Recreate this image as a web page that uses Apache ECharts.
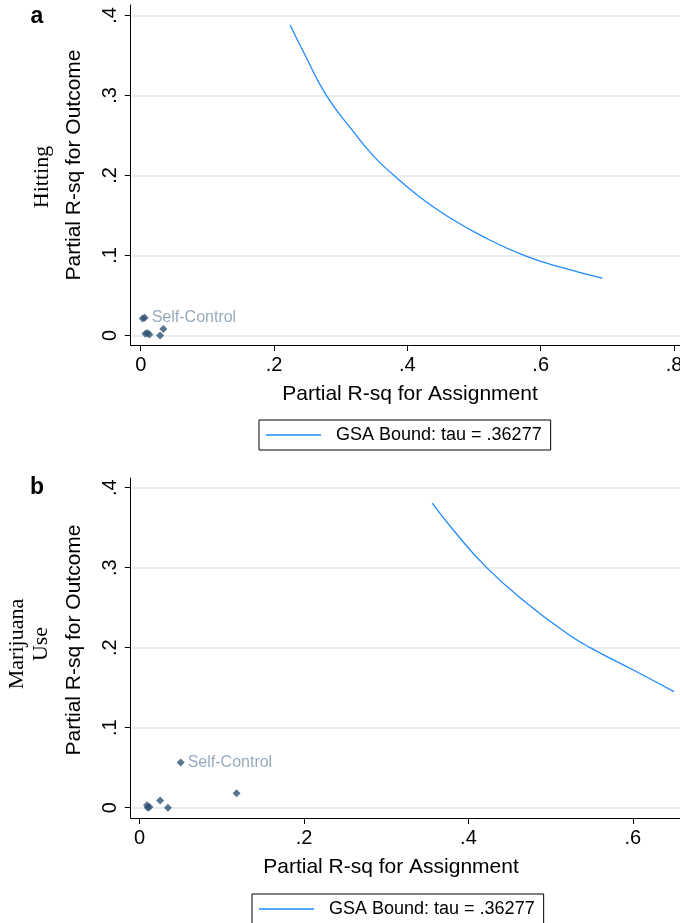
<!DOCTYPE html>
<html>
<head>
<meta charset="utf-8">
<script src="https://cdn.jsdelivr.net/npm/echarts@6/dist/echarts.min.js"></script>
<style>
  html, body { margin: 0; padding: 0; background: #fff; overflow: hidden; }
  /* wider than the window: the plots run off the right edge, as in the reference */
  #chart { width: 830px; height: 923px; }
</style>
</head>
<body>
<div id="chart"></div>
<script>
// panel a (Hitting): covariate points and the GSA bound curve
var pointsA = [[0.003, 0.021], [0.006, 0.022], [0.007, 0.002], [0.010, 0.003], [0.013, 0.001], [0.029, 0.000], [0.034, 0.008]];
var labelIdxA = 1;
var boundA = [[0.224, 0.388], [0.245, 0.353], [0.2785, 0.300], [0.315, 0.259], [0.350, 0.2235], [0.380, 0.200],
              [0.420, 0.172], [0.460, 0.149], [0.510, 0.125], [0.575, 0.100], [0.635, 0.084], [0.6925, 0.0715]];

// panel b (Marijuana Use)
var pointsB = [[0.009, 0.003], [0.012, 0.001], [0.010, 0.000], [0.025, 0.009], [0.0345, 0.000], [0.050, 0.0566], [0.118, 0.018]];
var labelIdxB = 5;
var boundB = [[0.356, 0.3805], [0.3816, 0.347], [0.4222, 0.300], [0.471, 0.2555], [0.5196, 0.218],
              [0.548, 0.200], [0.6006, 0.172], [0.650, 0.145]];

// tick labels
var xTicks = [0, 0.2, 0.4, 0.6, 0.8];
var yTicks = [0, 0.1, 0.2, 0.3, 0.4];

var boundName = 'GSA Bound: tau = .36277';
var pointLabel = 'Self-Control';

var SANS = '"Liberation Sans", Arial, sans-serif';
var SERIF = '"Liberation Serif", "Times New Roman", serif';
var curveColor = '#1f8bff';
var markColor = '#2e5373';

// Stata style: .2 instead of 0.2
function fmt(v) {
  if (v === 0) return '0';
  return String(+v.toFixed(2)).replace(/^0\./, '.');
}

function pointData(pts, idx) {
  return pts.map(function (p, i) {
    if (i !== idx) return p;
    return {
      value: p,
      label: { show: true, position: 'right', distance: 3, formatter: pointLabel,
               color: '#7d93ab', fontSize: 16, fontFamily: SANS }
    };
  });
}

function xAxisCfg(idx, min, max) {
  return {
    type: 'value', gridIndex: idx, min: min, max: max,
    axisLine: { show: true, onZero: false, lineStyle: { color: '#000', width: 1 } },
    axisTick: { show: true, length: 6, customValues: xTicks, lineStyle: { color: '#000' } },
    axisLabel: { customValues: xTicks, formatter: fmt, margin: 10, color: '#000', fontSize: 20, fontFamily: SANS },
    splitLine: { show: false }
  };
}

function yAxisCfg(idx, min, max) {
  return {
    type: 'value', gridIndex: idx, min: min, max: max,
    axisLine: { show: true, onZero: false, lineStyle: { color: '#000', width: 1 } },
    axisTick: { show: true, length: 6, customValues: yTicks, lineStyle: { color: '#000' } },
    axisLabel: { customValues: yTicks, formatter: fmt, rotate: 90, margin: 10, color: '#000', fontSize: 20, fontFamily: SANS },
    splitLine: { show: true, lineStyle: { color: '#e6eef1', width: 2 } }
  };
}

function legendCfg(left, top) {
  return {
    left: left, top: top, data: [boundName],
    icon: 'rect', itemWidth: 55, itemHeight: 1.3, itemGap: 0,
    padding: [6, 9, 6, 7],
    borderColor: '#000', borderWidth: 1, borderRadius: 0,
    selectedMode: false,
    textStyle: { color: '#000', fontSize: 18, fontFamily: SANS, lineHeight: 18, padding: [0, 0, 0, 10] }
  };
}

function txt(x, y, text, font, rot) {
  return {
    type: 'text', x: x, y: y, rotation: rot || 0, silent: true,
    style: { text: text, font: font, fill: '#000', textAlign: 'center', textVerticalAlign: 'middle' }
  };
}

var chart = echarts.init(document.getElementById('chart'));

var option = {
  animation: false,
  backgroundColor: '#fff',
  grid: [
    { left: 130.7, top: 5, width: 558, height: 340 },
    { left: 130.7, top: 478, width: 683, height: 340 }
  ],
  xAxis: [xAxisCfg(0, -0.015, 0.822), xAxisCfg(1, -0.0108, 0.82)],
  yAxis: [yAxisCfg(0, -0.012, 0.413), yAxisCfg(1, -0.0129, 0.412)],
  legend: [legendCfg(259, 420), legendCfg(252, 894)],
  series: [
    {
      name: 'pointsA', type: 'scatter', xAxisIndex: 0, yAxisIndex: 0,
      symbol: 'diamond', symbolSize: 8, itemStyle: { color: markColor },
      data: pointData(pointsA, labelIdxA)
    },
    {
      name: boundName, type: 'line', xAxisIndex: 0, yAxisIndex: 0,
      symbol: 'none', smooth: true, color: curveColor,
      lineStyle: { color: curveColor, width: 1.3 },
      data: boundA
    },
    {
      name: 'pointsB', type: 'scatter', xAxisIndex: 1, yAxisIndex: 1,
      symbol: 'diamond', symbolSize: 8, itemStyle: { color: markColor },
      data: pointData(pointsB, labelIdxB)
    },
    {
      name: boundName, type: 'line', xAxisIndex: 1, yAxisIndex: 1,
      symbol: 'none', smooth: true, color: curveColor,
      lineStyle: { color: curveColor, width: 1.3 },
      data: boundB
    }
  ],
  graphic: [
    txt(37, 17, 'a', 'bold 23px ' + SANS),
    txt(37, 488, 'b', 'bold 23px ' + SANS),
    txt(410, 394, 'Partial R-sq for Assignment', '21px ' + SANS),
    txt(391, 867, 'Partial R-sq for Assignment', '21px ' + SANS),
    txt(74, 165, 'Partial R-sq for Outcome', '21px ' + SANS, Math.PI / 2),
    txt(74, 640, 'Partial R-sq for Outcome', '21px ' + SANS, Math.PI / 2),
    txt(42, 177, 'Hitting', '22px ' + SERIF, Math.PI / 2),
    txt(17, 644, 'Marijuana', '22px ' + SERIF, Math.PI / 2),
    txt(41, 644, 'Use', '22px ' + SERIF, Math.PI / 2)
  ]
};

chart.setOption(option);
</script>
</body>
</html>
